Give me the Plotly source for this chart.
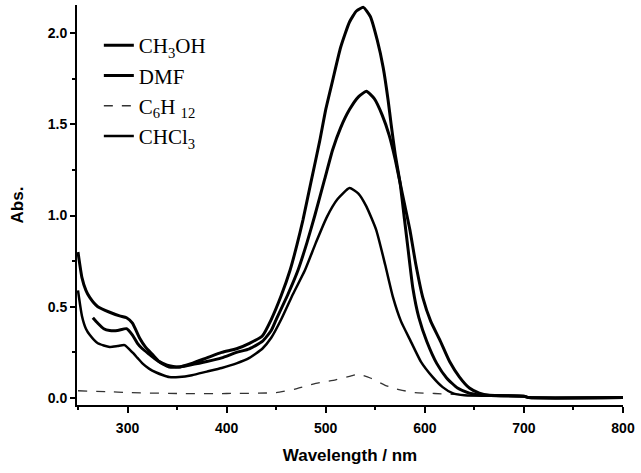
import plotly.graph_objects as go

# ---- data ----
ch3oh_wl = [250, 254, 258, 262, 270, 282, 292, 299, 305, 312, 318, 325, 332, 340, 352, 365, 380, 395, 410, 423,
            436, 445, 455, 464, 471, 477, 485, 494, 500, 507, 515, 524, 531, 538, 545, 552, 558, 563, 566, 570,
            575, 579, 583, 588, 594, 602, 612, 622, 633, 645, 660, 700, 705, 800]
ch3oh_abs = [0.80, 0.66, 0.59, 0.55, 0.50, 0.47, 0.45, 0.44, 0.41, 0.33, 0.28, 0.24, 0.20, 0.18, 0.17, 0.19, 0.22, 0.25, 0.27, 0.30,
             0.34, 0.43, 0.56, 0.70, 0.84, 0.975, 1.18, 1.41, 1.58, 1.74, 1.92, 2.06, 2.12, 2.14, 2.09, 1.96, 1.81, 1.63, 1.50, 1.34,
             1.18, 1.00, 0.82, 0.60, 0.44, 0.31, 0.19, 0.11, 0.055, 0.027, 0.015, 0.01, 0.003, 0.003]

dmf_wl = [265, 270, 276, 282, 290, 299, 305, 310, 315, 322, 329, 336, 342, 352, 362, 380, 395, 410, 423, 436,
          445, 450, 462, 472, 481, 489, 499, 507, 515, 524, 533, 541, 549, 557, 564, 570, 575, 580, 585, 591,
          598, 606, 615, 625, 635, 645, 655, 665, 700, 705, 800]
dmf_abs = [0.44, 0.41, 0.38, 0.37, 0.37, 0.38, 0.345, 0.30, 0.27, 0.24, 0.21, 0.185, 0.17, 0.17, 0.18, 0.20, 0.22, 0.25, 0.27, 0.31,
           0.37, 0.43, 0.57, 0.70, 0.85, 1.00, 1.20, 1.36, 1.48, 1.58, 1.65, 1.68, 1.64, 1.55, 1.44, 1.31, 1.18, 1.05, 0.92, 0.73,
           0.55, 0.42, 0.32, 0.20, 0.115, 0.055, 0.027, 0.015, 0.01, 0.003, 0.003]

c6h12_wl = [250, 280, 300, 350, 400, 450, 470, 490, 510, 525, 533, 545, 560, 575, 590, 610, 630, 640]
c6h12_abs = [0.04, 0.035, 0.03, 0.025, 0.025, 0.03, 0.05, 0.08, 0.10, 0.12, 0.13, 0.11, 0.07, 0.045, 0.03, 0.025, 0.02, 0.02]

chcl3_wl = [250, 254, 258, 262, 270, 282, 290, 297, 305, 310, 315, 322, 329, 336, 342, 352, 365, 380, 395, 410,
            423, 436, 445, 455, 467, 479, 490, 501, 512, 524, 533, 541, 551, 560, 568, 576, 585, 596, 608, 618,
            628, 640, 700, 705, 800]
chcl3_abs = [0.59, 0.45, 0.38, 0.345, 0.30, 0.28, 0.285, 0.29, 0.25, 0.22, 0.19, 0.16, 0.14, 0.125, 0.115, 0.115, 0.125, 0.145, 0.165, 0.19,
             0.22, 0.27, 0.33, 0.43, 0.57, 0.70, 0.85, 0.99, 1.09, 1.15, 1.12, 1.05, 0.92, 0.73, 0.55, 0.42, 0.32, 0.20, 0.115, 0.06,
             0.027, 0.015, 0.01, 0.003, 0.003]

x_ticks = [300, 400, 500, 600, 700, 800]
y_ticks = [0.0, 0.5, 1.0, 1.5, 2.0]
y_tick_labels = ["0.0", "0.5", "1.0", "1.5", "2.0"]

line_style = dict(color="black", shape="spline", smoothing=0.5)
fig = go.Figure()
fig.add_trace(go.Scatter(x=ch3oh_wl, y=ch3oh_abs, mode="lines", name="CH<sub>3</sub>OH",
                         line=dict(width=3, **line_style)))
fig.add_trace(go.Scatter(x=dmf_wl, y=dmf_abs, mode="lines", name="DMF",
                         line=dict(width=3, **line_style)))
fig.add_trace(go.Scatter(x=c6h12_wl, y=c6h12_abs, mode="lines", name="C<sub>6</sub>H <sub>12</sub>",
                         line=dict(color="#333333", width=1.3, dash="dash", shape="spline", smoothing=0.5)))
fig.add_trace(go.Scatter(x=chcl3_wl, y=chcl3_abs, mode="lines", name="CHCl<sub>3</sub>",
                         line=dict(width=2.5, **line_style)))

sans = "Liberation Sans, Arial, sans-serif"
tickfont = dict(family=sans, size=14, color="black", weight="bold")
fig.update_layout(
    width=641, height=473,
    margin=dict(l=77, r=18, t=5, b=68),
    paper_bgcolor="white", plot_bgcolor="white",
    showlegend=True,
    legend=dict(x=0.04, y=0.95, xanchor="left", yanchor="top",
                font=dict(family="Liberation Serif, Times New Roman, serif", size=21, color="black"),
                bgcolor="rgba(0,0,0,0)", borderwidth=0, tracegroupgap=0),
    xaxis=dict(range=[249, 800], tickvals=x_ticks, ticktext=[str(v) for v in x_ticks],
               showgrid=False, zeroline=False, showline=True, linecolor="black", linewidth=2,
               ticks="outside", ticklen=6, tickwidth=2, tickcolor="black", tickfont=tickfont,
               ticklabelstandoff=3,
               minor=dict(dtick=50, tick0=250, ticks="outside", ticklen=3, tickwidth=1.5, tickcolor="black"),
               title=dict(text="Wavelength / nm", font=dict(family=sans, size=17, color="black", weight="bold"),
                          standoff=14)),
    yaxis=dict(range=[-0.038, 2.153], tickvals=y_ticks, ticktext=y_tick_labels,
               showgrid=False, zeroline=False, showline=True, linecolor="black", linewidth=2,
               ticks="outside", ticklen=5, tickwidth=2, tickcolor="black", tickfont=tickfont,
               minor=dict(dtick=0.25, tick0=0, ticks="outside", ticklen=3, tickwidth=1.5, tickcolor="black"),
               title=dict(text="Abs.", font=dict(family=sans, size=17, color="black", weight="bold"),
                          standoff=20)),
)

fig.write_html("out.html")
